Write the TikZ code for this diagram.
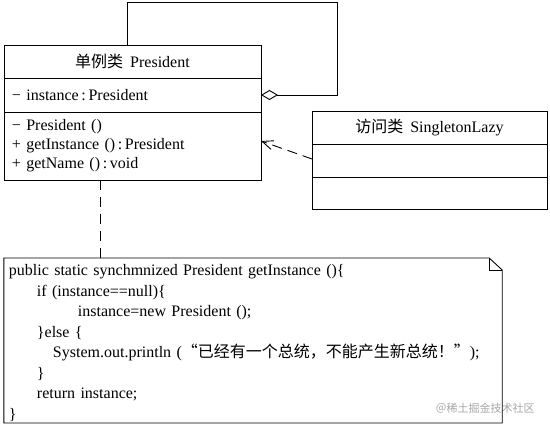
\documentclass[tikz,border=0pt]{standalone}
\usepackage{fontspec}
\setmainfont{Liberation Serif}
\newfontfamily\cjk[RawFeature=+fwid]{Noto Sans CJK SC}
\usetikzlibrary{arrows.meta,positioning}

\begin{document}
\begin{tikzpicture}[x=1pt, y=-1pt, node distance=0pt]
% Define styles
\tikzstyle{classname} = [rectangle, draw=black, line width=0.9pt, outer sep=0pt, inner sep=0pt, text centered, font=\fontsize{16}{19}\selectfont]
\tikzstyle{classbody} = [rectangle, draw=black, line width=0.9pt, outer sep=0pt, inner xsep=8pt, inner ysep=0pt, align=left, font=\fontsize{16}{19}\selectfont]
\tikzstyle{aggr} = [line width=0.9pt, -{Diamond[open,length=17pt,width=10pt]}]
\tikzstyle{dep} = [line width=0.9pt, dash pattern=on 10pt off 6pt, -{Straight Barb[length=11pt,width=9pt]}]
\tikzstyle{notelink} = [line width=0.9pt, dash pattern=on 10pt off 7pt]

\useasboundingbox (0,0) rectangle (550,427);

% Place nodes
\node (presname) [classname, minimum width=257pt, minimum height=33pt] at (132.5,61.5) {{\cjk 单例类}\hspace{7pt}President};
\node (presattr) [classbody, text width=241pt, minimum height=34pt, below=of presname] {− instance\,:\,President};
\node (presops) [classbody, text width=241pt, minimum height=68pt, below=of presattr] {− President ()\\+ getInstance ()\,:\,President\\+ getName ()\,:\,void};

\node (lazyname) [classname, minimum width=235pt, minimum height=33pt] at (429.5,127.5) {{\cjk 访问类}\hspace{7pt}SingletonLazy};
\node (lazyattr) [classbody, text width=219pt, minimum height=33pt, below=of lazyname] {};
\node (lazyops) [classbody, text width=219pt, minimum height=32pt, below=of lazyattr] {};

\node (note) [inner xsep=5pt, inner ysep=0pt, text width=488pt, minimum height=165pt, align=left, font=\fontsize{16}{20.5}\selectfont] at (253,343) {%
public static synchmnized President getInstance ()\{\\
\hspace*{28pt}if (instance==null)\{\\
\hspace*{69pt}instance=new President ();\\
\hspace*{28pt}\}else \{\\
\hspace*{44pt}System.out.println ({\cjk “已经有一个总统，不能产生新总统！”});\\
\hspace*{28pt}\}\\
\hspace*{28pt}return instance;\\
\}};
\node (mark) [text=black!35, font=\cjk\fontsize{11}{12}\selectfont] at (485,408) {@稀土掘金技术社区};

\coordinate (loop) at (337,2);
\coordinate (notetop) at (253,258);
\coordinate (notebot) at (253,423);

% Draw arrows
\draw [line width=0.9pt] (note.west |- notetop) -- ([xshift=-13pt]note.east |- notetop) -- ([yshift=-12pt]note.east |- notetop) -- (note.east |- notebot) -- (note.west |- notebot) -- cycle;
\draw [line width=0.9pt] ([xshift=-13pt]note.east |- notetop) |- ([yshift=-12pt]note.east |- notetop);
\draw [aggr] ([xshift=-5.5pt]presname.north) |- (loop) |- (presattr.east);
\draw [dep] ([yshift=1.5pt]lazyattr.west) -- ([yshift=5pt]presops.east);
\draw [notelink] ([xshift=-32pt]presops.south) -- ([xshift=-32pt]presops.south |- notetop);
\end{tikzpicture}
\end{document}
